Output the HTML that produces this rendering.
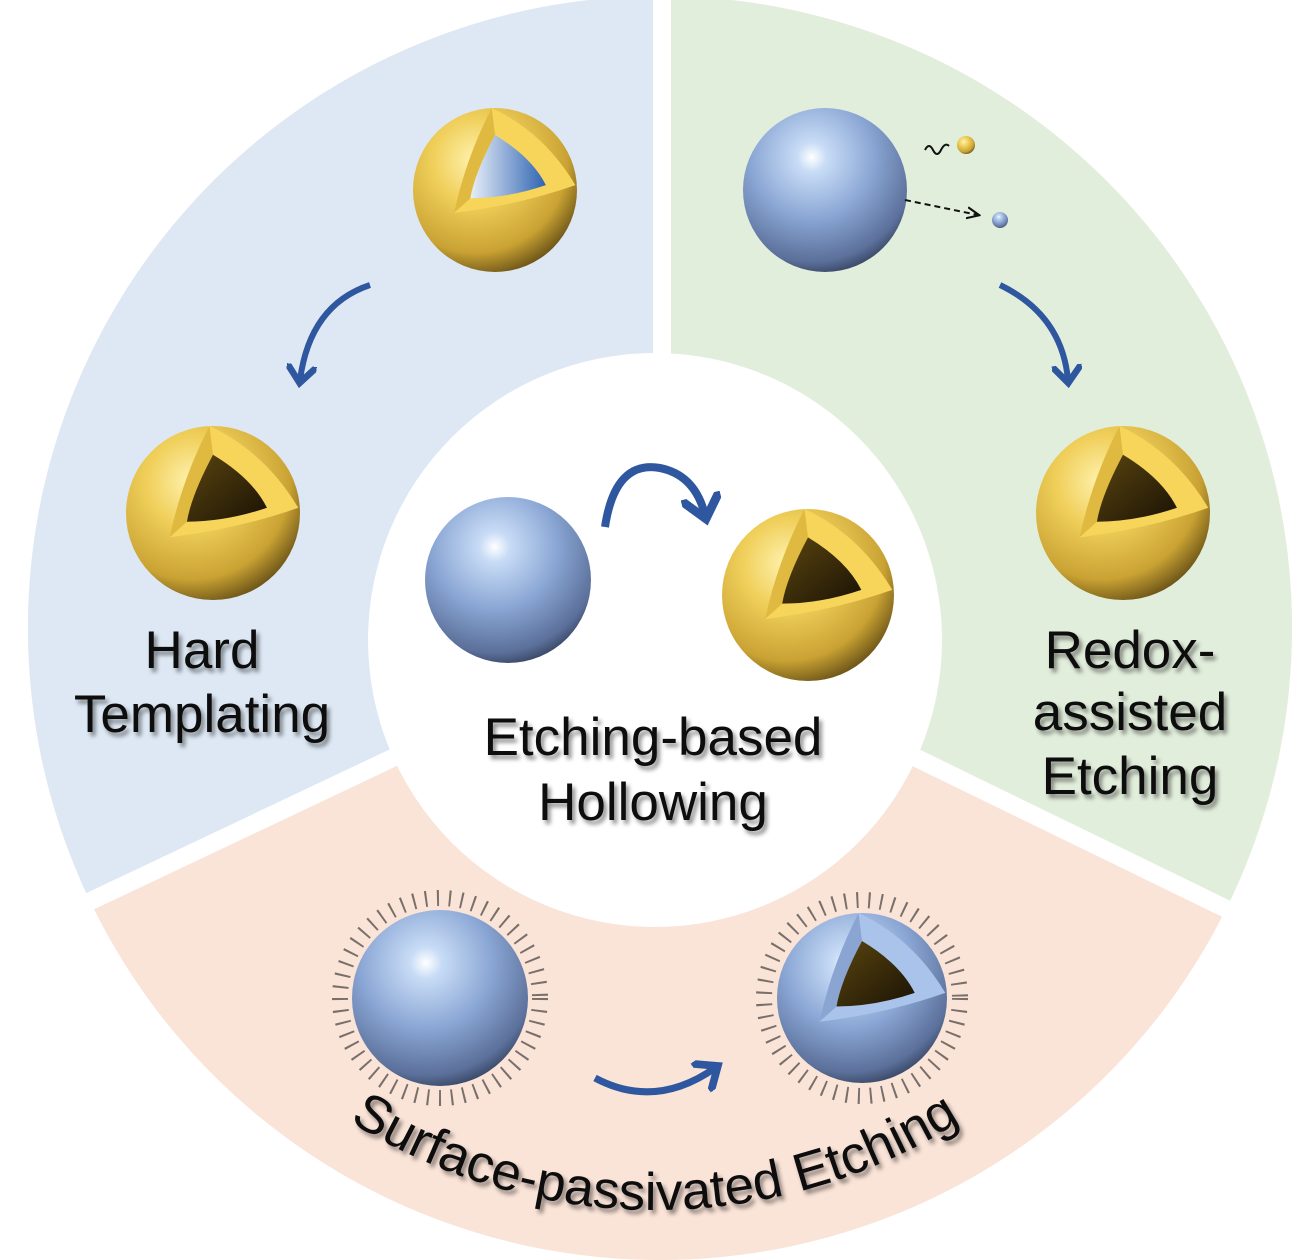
<!DOCTYPE html>
<html><head><meta charset="utf-8"><style>
html,body{margin:0;padding:0;background:#fff;}
svg{display:block;}
text{font-family:"Liberation Sans",Arial,sans-serif;fill:#111;}
</style></head><body>
<svg width="1315" height="1260" viewBox="0 0 1315 1260" xmlns="http://www.w3.org/2000/svg">
<defs>
 <radialGradient id="gy" cx="0.38" cy="0.32" r="0.75">
  <stop offset="0" stop-color="#fff3b0"/><stop offset="0.35" stop-color="#f0cf5a"/><stop offset="0.75" stop-color="#c9a233"/><stop offset="1" stop-color="#5a4512"/>
 </radialGradient>
 <radialGradient id="gb" cx="0.42" cy="0.3" r="0.75">
  <stop offset="0" stop-color="#ffffff"/><stop offset="0.12" stop-color="#c8dcf6"/><stop offset="0.5" stop-color="#8aa6d4"/><stop offset="0.85" stop-color="#5b709a"/><stop offset="1" stop-color="#2e3a55"/>
 </radialGradient>
 <linearGradient id="core" x1="0" y1="0" x2="1" y2="0">
  <stop offset="0" stop-color="#e8eff8"/><stop offset="1" stop-color="#2f64b2"/>
 </linearGradient>
 <linearGradient id="dark" x1="0" y1="0" x2="1" y2="1">
  <stop offset="0" stop-color="#5a4510"/><stop offset="1" stop-color="#1a1204"/>
 </linearGradient>
 <filter id="ts" x="-10%" y="-10%" width="130%" height="140%"><feDropShadow dx="3" dy="4" stdDeviation="2" flood-color="#000" flood-opacity="0.45"/></filter>
 <symbol id="ysph" viewBox="-100 -100 200 200" overflow="visible">
  <circle r="100" fill="url(#gy)"/>
 </symbol>
 <symbol id="bsph" viewBox="-100 -100 200 200" overflow="visible">
  <circle r="100" fill="url(#gb)"/>
 </symbol>
 <symbol id="wedgeY" viewBox="-100 -100 200 200" overflow="visible">
  <path d="M-4,-100 Q60,-70 98,-6 Q30,18 -50,28 Q-35,-40 -4,-100Z" fill="#f7d55a"/>
  <path d="M-4,-100 L0,-67 Q-25,-20 -30,10 L-50,28 Q-35,-40 -4,-100Z" fill="#e0b940"/>
  <path d="M0,-67 Q45,-40 62,-6 Q15,10 -30,10 Q-25,-20 0,-67Z" fill="url(#dark)"/>
 </symbol>
 <symbol id="wedgeC" viewBox="-100 -100 200 200" overflow="visible">
  <path d="M-4,-100 Q60,-70 98,-6 Q30,18 -50,28 Q-35,-40 -4,-100Z" fill="#f7d55a"/>
  <path d="M-4,-100 L0,-67 Q-25,-20 -30,10 L-50,28 Q-35,-40 -4,-100Z" fill="#e0b940"/>
  <path d="M0,-67 Q45,-40 62,-6 Q15,10 -30,10 Q-25,-20 0,-67Z" fill="url(#core)"/>
 </symbol>
 <symbol id="wedgeB" viewBox="-100 -100 200 200" overflow="visible">
  <path d="M-4,-100 Q60,-70 98,-6 Q30,18 -50,28 Q-35,-40 -4,-100Z" fill="#a9c3ea"/>
  <path d="M-4,-100 L0,-67 Q-25,-20 -30,10 L-50,28 Q-35,-40 -4,-100Z" fill="#8aa5d2"/>
  <path d="M0,-67 Q45,-40 62,-6 Q15,10 -30,10 Q-25,-20 0,-67Z" fill="url(#dark)"/>
 </symbol>
 <marker id="ah" viewBox="0 0 10 10" refX="5" refY="5" markerWidth="5" markerHeight="5" orient="auto">
  <path d="M0,0 L6,5 L0,10" fill="none" stroke="#2e57a0" stroke-width="2.2"/>
 </marker>
 <marker id="ahk" viewBox="0 0 10 10" refX="8" refY="5" markerWidth="7" markerHeight="7" orient="auto">
  <path d="M0,1 L9,5 L0,9" fill="none" stroke="#111" stroke-width="1.5"/>
 </marker>
 <path id="arcT" d="M 85,640 A 570 570 0 0 0 1225,640"/>
</defs>

<circle cx="660" cy="628" r="632" fill="#fae3d7"/>
<path d="M660,628 L660,-4 A632 632 0 0 0 89,899 Z" fill="#dde8f4"/>
<path d="M660,628 L660,-4 A632 632 0 0 1 1228,905 Z" fill="#e2eedc"/>
<g stroke="#fff" stroke-width="18">
 <line x1="662" y1="0" x2="662" y2="400"/>
 <line x1="420" y1="745" x2="40" y2="925"/>
 <line x1="900" y1="750" x2="1280" y2="935"/>
</g>
<circle cx="655" cy="640" r="287" fill="#fff"/>

<use href="#ysph" x="413" y="108" width="164" height="164"/>
<use href="#wedgeC" x="413" y="108" width="164" height="164"/>
<path d="M370,285 Q310,305 300,380" fill="none" stroke="#2e57a0" stroke-width="6" marker-end="url(#ah)"/>
<use href="#ysph" x="126" y="426" width="174" height="174"/>
<use href="#wedgeY" x="126" y="426" width="174" height="174"/>
<g filter="url(#ts)" font-size="53" text-anchor="middle">
 <text x="202" y="668">Hard</text>
 <text x="202" y="732">Templating</text>
</g>

<use href="#bsph" x="743" y="108" width="164" height="164"/>
<circle cx="966" cy="145" r="9" fill="url(#gy)"/>
<circle cx="1000" cy="220" r="8" fill="url(#gb)"/>
<path d="M925,150 q4,-8 8,0 t8,0 t8,-4" fill="none" stroke="#111" stroke-width="2"/>
<path d="M905,200 L978,215" fill="none" stroke="#111" stroke-width="2" stroke-dasharray="6,4" marker-end="url(#ahk)"/>
<path d="M1000,285 Q1062,315 1068,380" fill="none" stroke="#2e57a0" stroke-width="6" marker-end="url(#ah)"/>
<use href="#ysph" x="1036" y="426" width="174" height="174"/>
<use href="#wedgeY" x="1036" y="426" width="174" height="174"/>
<g filter="url(#ts)" font-size="53" text-anchor="middle">
 <text x="1130" y="668">Redox-</text>
 <text x="1130" y="730">assisted</text>
 <text x="1130" y="794">Etching</text>
</g>

<use href="#bsph" x="425" y="497" width="166" height="166"/>
<path d="M605,527 Q615,460 660,468 Q695,475 705,515" fill="none" stroke="#2e57a0" stroke-width="8" marker-end="url(#ah)"/>
<use href="#ysph" x="722" y="509" width="172" height="172"/>
<use href="#wedgeY" x="722" y="509" width="172" height="172"/>
<g filter="url(#ts)" font-size="53" text-anchor="middle">
 <text x="653" y="755">Etching-based</text>
 <text x="653" y="820">Hollowing</text>
</g>

<g fill="none">
 <circle cx="440" cy="998" r="100" stroke-dasharray="2,10" stroke-width="16" stroke="#222" opacity="0.6"/>
 <circle cx="862" cy="998" r="98" stroke-dasharray="2,10" stroke-width="16" stroke="#222" opacity="0.6"/>
</g>
<use href="#bsph" x="352" y="910" width="176" height="176"/>
<use href="#bsph" x="777" y="913" width="170" height="170"/>
<use href="#wedgeB" x="777" y="913" width="170" height="170"/>
<path d="M595,1078 Q655,1110 715,1068" fill="none" stroke="#2e57a0" stroke-width="7" marker-end="url(#ah)"/>
<text font-size="53" filter="url(#ts)"><textPath href="#arcT" startOffset="50%" text-anchor="middle">Surface-passivated Etching</textPath></text>
</svg>
</body></html>
